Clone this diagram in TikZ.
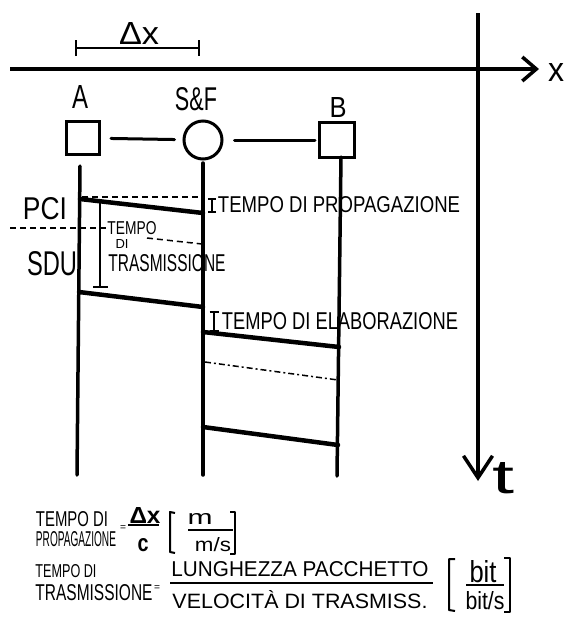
\documentclass[tikz,border=0pt]{standalone}
\usepackage{fontspec}
\setmainfont{Liberation Sans}
\usepackage{graphicx}
\usetikzlibrary{arrows.meta}
\newcommand{\hfit}[3]{\resizebox{#1pt}{#2pt}{#3}}
\begin{document}
\begin{tikzpicture}[x=1pt,y=-1pt,
  txt/.style={inner sep=0pt, outer sep=0pt},
  life/.style={line width=3.5pt, line cap=round},
  msg/.style={line width=4.5pt, line cap=round},
  axis/.style={line width=3.5pt},
  shp/.style={draw, line width=3pt, inner sep=0pt},
  link/.style={line width=3pt, line cap=round},
  dim/.style={line width=2pt},
  guide/.style={line width=1.5pt, dash pattern=on 6pt off 4pt},
  dashdot/.style={line width=1.5pt, dash pattern=on 6pt off 3pt on 2pt off 3pt},
  brk/.style={line width=2pt, line join=round},
  fbar/.style={line width=2pt},
]
\useasboundingbox (0,0) rectangle (566,633);
% axes
\coordinate (xa0) at (10,69); \coordinate (xa1) at (539,69);
\draw[axis, -{Straight Barb[length=14pt,width=24pt]}] (xa0) -- (xa1);
\node[txt] (xlab) at (556,72) {\hfit{16}{18}{x}};
\coordinate (ta0) at (478,13); \coordinate (ta1) at (478,481);
\draw[axis, -{Straight Barb[length=22pt,width=29pt]}] (ta0) -- (ta1);
\node[txt] (tlab) at (504,478) {\hfit{22}{31}{t}};
% delta x
\coordinate (dx1) at (75,48); \coordinate (dx2) at (200,48);
\draw[dim, {Bar[width=16pt]}-{Bar[width=16pt]}] (dx1) -- (dx2);
\node[txt] (dxlab) at (139,33) {\hfit{40}{22}{Δx}};
% stations
\node[txt] (lA) at (80,97) {\hfit{16}{23}{A}};
\node[txt] (lS) at (196,99) {\hfit{42}{23}{S\&F}};
\node[txt] (lB) at (338,107) {\hfit{17}{20}{B}};
\node[shp, minimum width=33pt, minimum height=33pt] (sqA) at (83,138) {};
\node[shp, circle, minimum size=38pt] (sf) at (203,140) {};
\node[shp, minimum width=35pt, minimum height=35pt] (sqB) at (337,140) {};
\draw[link, shorten <=10pt, shorten >=8pt] (sqA) -- (sf);
\draw[link, shorten <=11pt, shorten >=3pt] (sf) -- (sqB);
% lifelines
\coordinate (A0) at (80,166); \coordinate (A1) at (77,475);
\coordinate (S0) at (203,163); \coordinate (S1) at (203,475);
\coordinate (B0) at (341,157); \coordinate (B1) at (337,476);
\draw[life] (A0) -- (A1);
\draw[life] (S0) -- (S1);
\draw[life] (B0) -- (B1);
% messages
\coordinate (m1a) at (80,199); \coordinate (m1b) at (203,213);
\coordinate (m2a) at (79,292); \coordinate (m2b) at (203,307);
\coordinate (m3a) at (203,332); \coordinate (m3b) at (339,347);
\coordinate (m4a) at (203,427); \coordinate (m4b) at (338,445);
\draw[msg] (m1a) -- (m1b);
\draw[msg] (m2a) -- (m2b);
\draw[msg] (m3a) -- (m3b);
\draw[msg] (m4a) -- (m4b);
% guides
\coordinate (g1a) at (82,197); \coordinate (g1b) at (203,197);
\coordinate (g2a) at (10,228); \coordinate (g2b) at (107,228);
\coordinate (g3a) at (147,238); \coordinate (g3b) at (202,244);
\coordinate (g4a) at (205,362); \coordinate (g4b) at (338,380);
\draw[guide] (g1a) -- (g1b);
\draw[guide] (g2a) -- (g2b);
\draw[guide] (g3a) -- (g3b);
\draw[dashdot] (g4a) -- (g4b);
% interval brackets
\coordinate (tx0) at (100,201); \coordinate (tx1) at (100,288);
\draw[dim, {Bar[width=15pt]}-{Bar[width=15pt]}] (tx0) -- (tx1);
\coordinate (tp0) at (212,198); \coordinate (tp1) at (212,213);
\draw[dim, {Bar[width=8pt]}-{Bar[width=8pt]}] (tp0) -- (tp1);
\coordinate (te0) at (214,311); \coordinate (te1) at (214,332);
\draw[dim, {Bar[width=9pt]}-{Bar[width=9pt]}] (te0) -- (te1);
% middle labels
\node[txt] (pci) at (45,209) {\hfit{44}{22}{PCI}};
\node[txt] (sdu) at (52,264) {\hfit{50}{24}{SDU}};
\node[txt] (tt1) at (132,228) {\hfit{49}{13}{TEMPO}};
\node[txt] (tt2) at (122,244) {\hfit{13}{9}{DI}};
\node[txt] (tt3) at (167,263) {\hfit{117}{17}{TRASMISSIONE}};
\node[txt] (tprop) at (339,205) {\hfit{242}{16}{TEMPO DI PROPAGAZIONE}};
\node[txt] (telab) at (340,321) {\hfit{236}{17}{TEMPO DI ELABORAZIONE}};
% formula 1
\node[txt] (e1a) at (72,519) {\hfit{72}{15}{TEMPO DI}};
\node[txt] (e1b) at (76,539) {\hfit{80}{15}{PROPAGAZIONE}};
\node[txt] (eq1) at (123,528) {\hfit{6}{5}{=}};
\node[txt] (num1) at (145,515) {\hfit{31}{16}{\bfseries Δx}};
\coordinate (f1a) at (128,525); \coordinate (f1b) at (159,525);
\draw[fbar, line width=2.5pt] (f1a) -- (f1b);
\node[txt] (den1) at (143,545) {\hfit{11}{13}{\bfseries c}};
\coordinate (k1a) at (175,513); \coordinate (k1b) at (170,512);
\coordinate (k1c) at (170,552); \coordinate (k1d) at (175,553);
\draw[brk] (k1a) -- (k1b) -- (k1c) -- (k1d);
\coordinate (k2a) at (230,512); \coordinate (k2b) at (235,512);
\coordinate (k2c) at (235,554); \coordinate (k2d) at (230,554);
\draw[brk] (k2a) -- (k2b) -- (k2c) -- (k2d);
\node[txt] (u1n) at (200,519) {\hfit{25}{11}{m}};
\coordinate (u1a) at (188,530); \coordinate (u1b) at (233,530);
\draw[fbar, line width=1.5pt] (u1a) -- (u1b);
\node[txt] (u1d) at (213,545) {\hfit{36}{14}{m/s}};
% formula 2
\node[txt] (e2a) at (66,571) {\hfit{61}{13}{TEMPO DI}};
\node[txt] (e2b) at (94,593) {\hfit{117}{16}{TRASMISSIONE}};
\node[txt] (eq2) at (157,588) {\hfit{6}{5}{=}};
\node[txt] (num2) at (300,569) {\hfit{257}{15}{LUNGHEZZA PACCHETTO}};
\coordinate (f2a) at (170,583); \coordinate (f2b) at (433,583);
\draw[fbar] (f2a) -- (f2b);
\node[txt] (den2) at (300,600) {\hfit{255}{18}{VELOCITÀ DI TRASMISS.}};
\coordinate (k3a) at (455,559); \coordinate (k3b) at (449,559);
\coordinate (k3c) at (449,610); \coordinate (k3d) at (455,611);
\draw[brk] (k3a) -- (k3b) -- (k3c) -- (k3d);
\coordinate (k4a) at (504,558); \coordinate (k4b) at (510,558);
\coordinate (k4c) at (510,612); \coordinate (k4d) at (504,612);
\draw[brk] (k4a) -- (k4b) -- (k4c) -- (k4d);
\node[txt] (u2n) at (483,572) {\hfit{27}{22}{bit}};
\coordinate (u2a) at (466,585); \coordinate (u2b) at (504,585);
\draw[fbar] (u2a) -- (u2b);
\node[txt] (u2d) at (485,601) {\hfit{39}{18}{bit/s}};
\end{tikzpicture}
\end{document}
